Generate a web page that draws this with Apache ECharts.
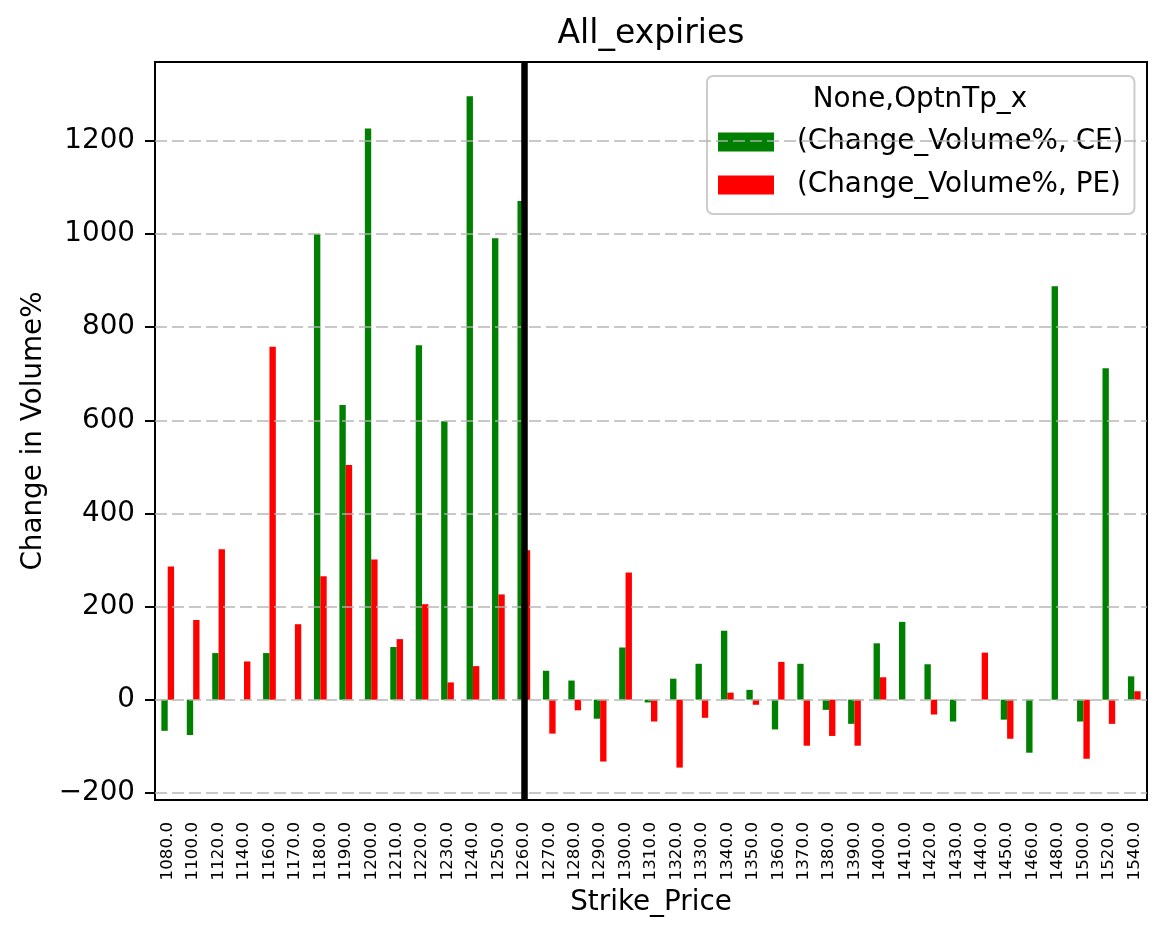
<!DOCTYPE html>
<html lang="en">
    <head>
        <meta charset="UTF-8">
        <script src="https://cdn.jsdelivr.net/npm/echarts@6.0.0/dist/echarts.min.js"></script>
        <title>All_expiries</title>
        <style>
            html, body { margin: 0; padding: 0; background: #fff; }
        </style>
    </head>
    <body>
        <div id="chart-container" style="width: 1166px; height: 939px;"></div>

        <script>
            // strike prices (x categories)
            const strikes = ['1080.0', '1100.0', '1120.0', '1140.0', '1160.0', '1170.0', '1180.0', '1190.0',
                '1200.0', '1210.0', '1220.0', '1230.0', '1240.0', '1250.0', '1260.0', '1270.0', '1280.0',
                '1290.0', '1300.0', '1310.0', '1320.0', '1330.0', '1340.0', '1350.0', '1360.0', '1370.0',
                '1380.0', '1390.0', '1400.0', '1410.0', '1420.0', '1430.0', '1440.0', '1450.0', '1460.0',
                '1480.0', '1500.0', '1520.0', '1540.0'];

            // change in volume % for calls (CE) and puts (PE), null = no bar
            const ceValues = [-67, -76, 100, null, 100, null, 1000, 633, 1227, 113, 761, 598, 1296, 991, 1071,
                62, 41, -41, 112, -6, 45, 77, 148, 21, -64, 77, -22, -52, 121, 167, 76, -47, null, -43, -114,
                888, -47, 712, 50];
            const peValues = [286, 171, 323, 82, 758, 162, 265, 504, 301, 130, 205, 37, 72, 226, 321,
                -73, -23, -133, 273, -47, -146, -39, 15, -11, 81, -99, -78, -99, 48, null, -32, null, 101, -84, null,
                null, -127, -52, 18];

            const yTicks = [-200, 0, 200, 400, 600, 800, 1000, 1200];
            const atmStrike = '1260.0';

            const font = 'DejaVu Sans';

            const chart = echarts.init(document.getElementById('chart-container'));
            const options = {
                animation: false,
                backgroundColor: '#fff',
                textStyle: { fontFamily: font, color: '#000' },
                title: [
                    {
                        text: 'All_expiries',
                        left: 651, top: 18, textAlign: 'center', padding: 0,
                        textStyle: { fontFamily: font, fontSize: 33, fontWeight: 'normal', color: '#000' }
                    },
                    {
                        // legend title
                        text: 'None,OptnTp_x',
                        left: 920, top: 86, textAlign: 'center', padding: 0, z: 10,
                        textStyle: { fontFamily: font, fontSize: 27.8, fontWeight: 'normal', color: '#000', lineHeight: 28 }
                    }
                ],
                legend: {
                    data: ['(Change_Volume%, CE)', '(Change_Volume%, PE)'],
                    orient: 'vertical',
                    left: 707, top: 76,
                    padding: [51, 11, 14, 11],
                    itemWidth: 56, itemHeight: 19,
                    itemGap: 13,
                    icon: 'rect',
                    backgroundColor: 'rgba(255,255,255,0.8)',
                    borderColor: '#cccccc', borderWidth: 2, borderRadius: 6,
                    textStyle: { fontFamily: font, fontSize: 27.8, color: '#000', lineHeight: 30, padding: [0, 0, 0, 18] }
                },
                grid: {
                    left: 155, top: 62, right: 19, bottom: 139,
                    show: true, borderColor: '#000', borderWidth: 2,
                    outerBoundsMode: 'none'
                },
                xAxis: {
                    type: 'category',
                    data: strikes,
                    name: 'Strike_Price',
                    nameLocation: 'middle',
                    nameGap: 89,
                    nameTextStyle: { fontFamily: font, fontSize: 27.8, color: '#000' },
                    axisLine: { onZero: false, lineStyle: { color: '#000', width: 2 } },
                    axisTick: { alignWithLabel: true, length: 10, lineStyle: { color: '#000', width: 2 } },
                    axisLabel: { rotate: 90, interval: 0, margin: 22, fontFamily: font, fontSize: 16.7, color: '#000' },
                    splitLine: { show: false }
                },
                yAxis: {
                    type: 'value',
                    min: -215.6, max: 1369.7,
                    name: 'Change in Volume%',
                    nameLocation: 'middle',
                    nameGap: 107,
                    nameTextStyle: { fontFamily: font, fontSize: 27.8, color: '#000' },
                    axisLine: { show: true, lineStyle: { color: '#000', width: 2 } },
                    axisTick: { show: true, length: 10, customValues: yTicks, lineStyle: { color: '#000', width: 2 } },
                    axisLabel: { margin: 20, customValues: yTicks, fontFamily: font, fontSize: 27.8, color: '#000',
                        formatter: v => (v < 0 ? '\u2212' + Math.abs(v) : String(v)) },
                    splitLine: { show: false }
                },
                series: [
                    {
                        name: '(Change_Volume%, CE)',
                        type: 'bar',
                        data: ceValues,
                        barWidth: '25%',
                        barGap: '0%',
                        itemStyle: { color: '#008000' }
                    },
                    {
                        name: '(Change_Volume%, PE)',
                        type: 'bar',
                        data: peValues,
                        barWidth: '25%',
                        barGap: '0%',
                        itemStyle: { color: '#ff0000' }
                    },
                    {
                        // dashed horizontal grid, drawn over the bars
                        name: 'grid',
                        type: 'line',
                        data: [],
                        z: 3,
                        silent: true,
                        markLine: {
                            silent: true,
                            symbol: 'none',
                            label: { show: false },
                            lineStyle: { color: 'rgba(176,176,176,0.7)', type: [12, 5], width: 2 },
                            data: yTicks.map(v => ({ yAxis: v }))
                        }
                    },
                    {
                        // vertical line at the ATM strike
                        name: 'atm',
                        type: 'line',
                        data: [],
                        z: 4,
                        silent: true,
                        markLine: {
                            silent: true,
                            symbol: 'none',
                            label: { show: false },
                            lineStyle: { color: '#000', type: 'solid', width: 6.5 },
                            data: [{ xAxis: atmStrike }]
                        }
                    }
                ]
            };
            chart.setOption(options);
        </script>
    </body>
</html>
